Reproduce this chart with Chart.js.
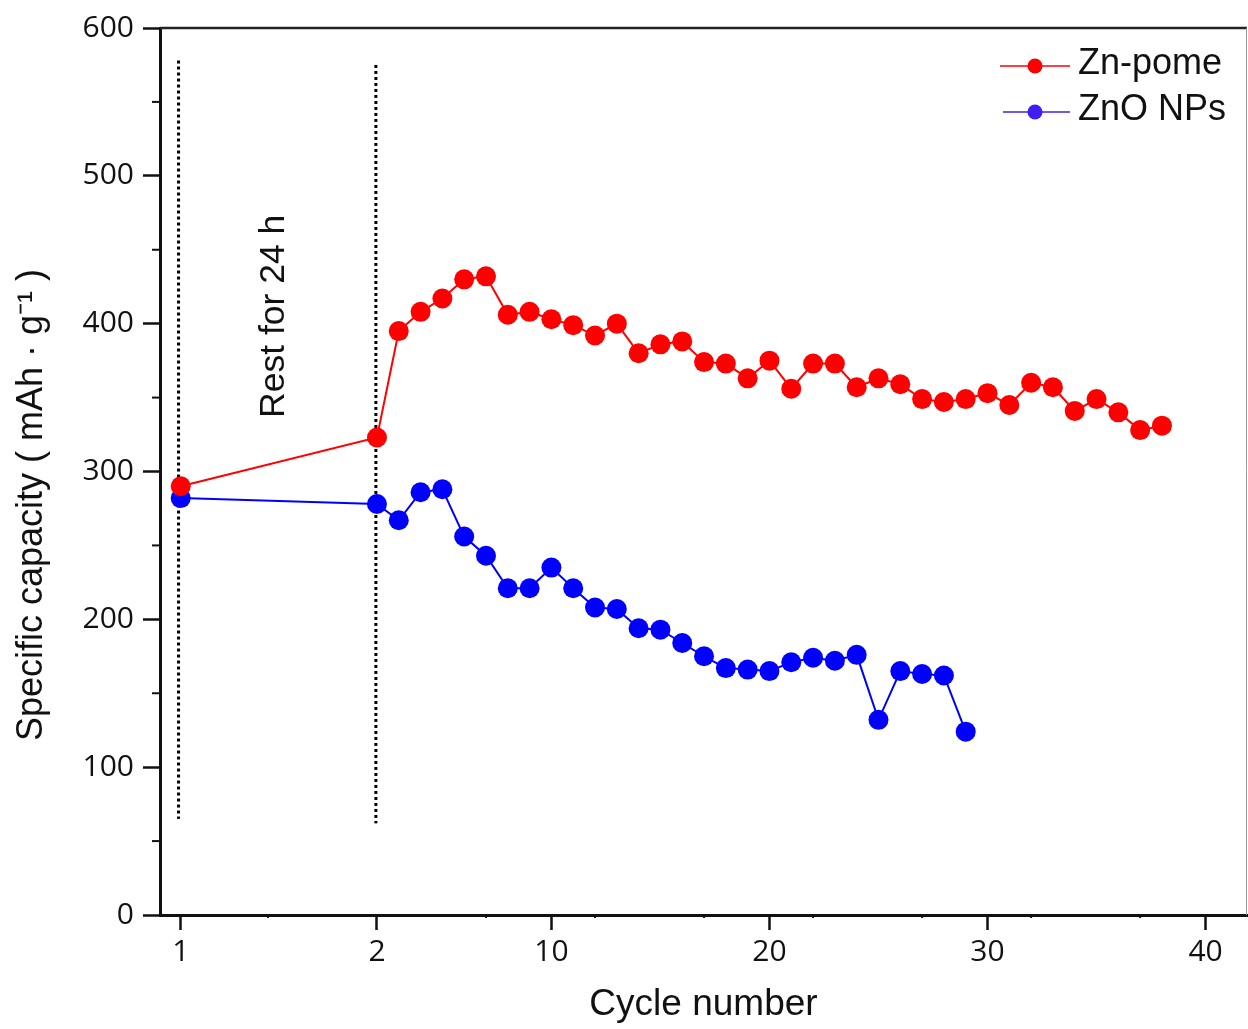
<!DOCTYPE html>
<html>
<head>
<meta charset="utf-8">
<script src="https://cdn.jsdelivr.net/npm/chart.js@4"></script>
<style>
  html, body { margin: 0; padding: 0; background: #fff; overflow: hidden; }
  #wrap { width: 1248px; height: 1029px; overflow: hidden; }
  canvas { display: block; }
</style>
</head>
<body>
<div id="wrap"><canvas id="myChart" width="1257" height="1029"></canvas></div>
<script>
var cycles = [1, 2, 3, 4, 5, 6, 7, 8, 9, 10, 11, 12, 13, 14, 15, 16, 17, 18, 19, 20,
  21, 22, 23, 24, 25, 26, 27, 28, 29, 30, 31, 32, 33, 34, 35, 36, 37, 38]
var znPome = [290, 323, 395, 408, 417, 430, 432, 406, 408, 403, 399, 392, 400, 380, 386, 388, 374, 373, 363, 375,
  356, 373, 373, 357, 363, 359, 349, 347, 349, 353, 345, 360, 357, 341, 349, 340, 328, 331]
var znoNPs = [282, 278, 267, 286, 288, 256, 243, 221, 221, 235, 221, 208, 207, 194, 193, 184, 175, 167, 166, 165,
  171, 174, 172, 176, 132, 165, 163, 162, 124]
var seriesNames = ['Zn-pome', 'ZnO NPs']
var xTickCycles = [1, 2, 10, 20, 30, 40]
var yTicks = [0, 100, 200, 300, 400, 500, 600]
// rest markers drawn at cycle 1 and cycle 2 (value range of the dotted lines)
var restLines = [[578, 65], [575, 62]]
var restLabel = 'Rest for 24 h'

// cycle 1 sits before a 24 h rest, so the axis is broken: shift it left
var REST_SHIFT = 8
function axisX(c) { return c === 1 ? c - REST_SHIFT : c }

function pts(vals) {
  return vals.map(function (v, i) { return { x: axisX(cycles[i]), y: v } })
}

var fontT = '"Liberation Sans", Arial, sans-serif'
var fontN = '"Open Sans", "Liberation Sans", sans-serif'

var extras = {
  id: 'extras',
  afterDraw: function (chart) {
    var ctx = chart.ctx
    var a = chart.chartArea
    var xs = chart.scales.x
    var ys = chart.scales.y
    ctx.save()
    // frame top + right
    ctx.strokeStyle = '#222'
    ctx.lineWidth = 2.5
    ctx.beginPath()
    ctx.moveTo(a.left, a.top)
    ctx.lineTo(a.right, a.top)
    ctx.stroke()
    ctx.strokeStyle = '#999'
    ctx.lineWidth = 1
    ctx.beginPath()
    ctx.moveTo(a.right - 0.5, a.top)
    ctx.lineTo(a.right - 0.5, a.bottom)
    ctx.stroke()
    // minor ticks
    ctx.strokeStyle = '#111'
    ctx.lineWidth = 2
    for (var v = 50; v < 600; v += 100) {
      var py = ys.getPixelForValue(v)
      ctx.beginPath()
      ctx.moveTo(a.left, py)
      ctx.lineTo(a.left - 8, py)
      ctx.stroke()
    }
    var xm = [-3, 7, 12, 17, 22, 27, 32, 37]
    xm.forEach(function (m) {
      var px = xs.getPixelForValue(m)
      ctx.beginPath()
      ctx.moveTo(px, a.bottom)
      ctx.lineTo(px, a.bottom + 3)
      ctx.stroke()
    })
    // rest label
    ctx.fillStyle = '#111'
    ctx.font = '35.5px ' + fontT
    ctx.textAlign = 'center'
    ctx.textBaseline = 'middle'
    ctx.translate(xs.getPixelForValue(-2.7), ys.getPixelForValue(405))
    ctx.rotate(-Math.PI / 2)
    ctx.fillText(restLabel, 0, 0)
    ctx.restore()

    // y title
    ctx.save()
    ctx.fillStyle = '#111'
    ctx.font = '36px ' + fontT
    ctx.textAlign = 'center'
    ctx.textBaseline = 'middle'
    ctx.translate(32, 505)
    ctx.rotate(-Math.PI / 2)
    ctx.fillText('Specific capacity ( mAh \u00b7 g\u207b\u00b9 )', 0, 0)
    ctx.restore()

    // legend
    var legendColors = ['#ff0000', '#3f1ff0']
    ctx.save()
    seriesNames.forEach(function (name, i) {
      var ly = 66 + i * 46
      ctx.strokeStyle = legendColors[i]
      ctx.lineWidth = 1.5
      ctx.beginPath()
      ctx.moveTo(1000 + i * 3, ly)
      ctx.lineTo(1070, ly)
      ctx.stroke()
      ctx.fillStyle = legendColors[i]
      ctx.beginPath()
      ctx.arc(1035, ly, 7.5, 0, Math.PI * 2)
      ctx.fill()
      ctx.fillStyle = '#111'
      ctx.font = '36px ' + fontT
      ctx.textAlign = 'left'
      ctx.textBaseline = 'middle'
      ctx.fillText(name, 1078, ly - 2)
    })
    ctx.restore()
  }
}

new Chart('myChart', {
  type: 'line',
  data: {
    datasets: [
      {
        label: seriesNames[0],
        data: pts(znPome),
        borderColor: '#ff0000',
        backgroundColor: '#ff0000',
        borderWidth: 2,
        pointRadius: 10,
        pointHoverRadius: 10,
        pointBorderWidth: 0,
      },
      {
        label: seriesNames[1],
        data: pts(znoNPs),
        borderColor: '#0000ff',
        backgroundColor: '#0000ff',
        borderWidth: 2,
        pointRadius: 10,
        pointHoverRadius: 10,
        pointBorderWidth: 0,
      },
      {
        label: 'rest1',
        data: restLines[0].map(function (v) { return { x: axisX(1) - 0.1, y: v } }),
        borderColor: '#000',
        borderWidth: 3,
        borderDash: [3, 3],
        pointRadius: 0,
      },
      {
        label: 'rest2',
        data: restLines[1].map(function (v) { return { x: axisX(2) - 0.05, y: v } }),
        borderColor: '#000',
        borderWidth: 3,
        borderDash: [3, 3],
        pointRadius: 0,
      },
    ],
  },
  options: {
    responsive: false,
    animation: false,
    layout: { padding: { top: 28, right: 1, left: 0, bottom: 0 } },
    plugins: {
      legend: { display: false },
      tooltip: { enabled: false },
    },
    scales: {
      x: {
        type: 'linear',
        min: -7.95,
        max: 41.9,
        afterBuildTicks: function (s) {
          s.ticks = xTickCycles.map(function (c) { return { value: axisX(c) } })
        },
        afterFit: function (s) { s.height = 114 },
        ticks: {
          padding: 4,
          color: '#111',
          font: { family: fontN, size: 30 },
          callback: function (v) { return v === axisX(1) ? '1' : String(v) },
        },
        grid: { drawOnChartArea: false, tickLength: 15, tickWidth: 2.5, tickColor: '#111' },
        border: { color: '#111', width: 3 },
        title: {
          display: true,
          text: 'Cycle number',
          color: '#111',
          font: { family: fontT, size: 37 },
          padding: { top: 0, bottom: 2 },
        },
      },
      y: {
        min: 0,
        max: 600,
        afterBuildTicks: function (s) {
          s.ticks = yTicks.map(function (v) { return { value: v } })
        },
        afterFit: function (s) { s.width = 160 },
        ticks: {
          padding: 9,
          color: '#111',
          font: { family: fontN, size: 30 },
        },
        grid: { drawOnChartArea: false, tickLength: 17, tickWidth: 2.5, tickColor: '#111' },
        border: { color: '#111', width: 3 },
      },
    },
  },
  plugins: [extras],
})
</script>
</body>
</html>
